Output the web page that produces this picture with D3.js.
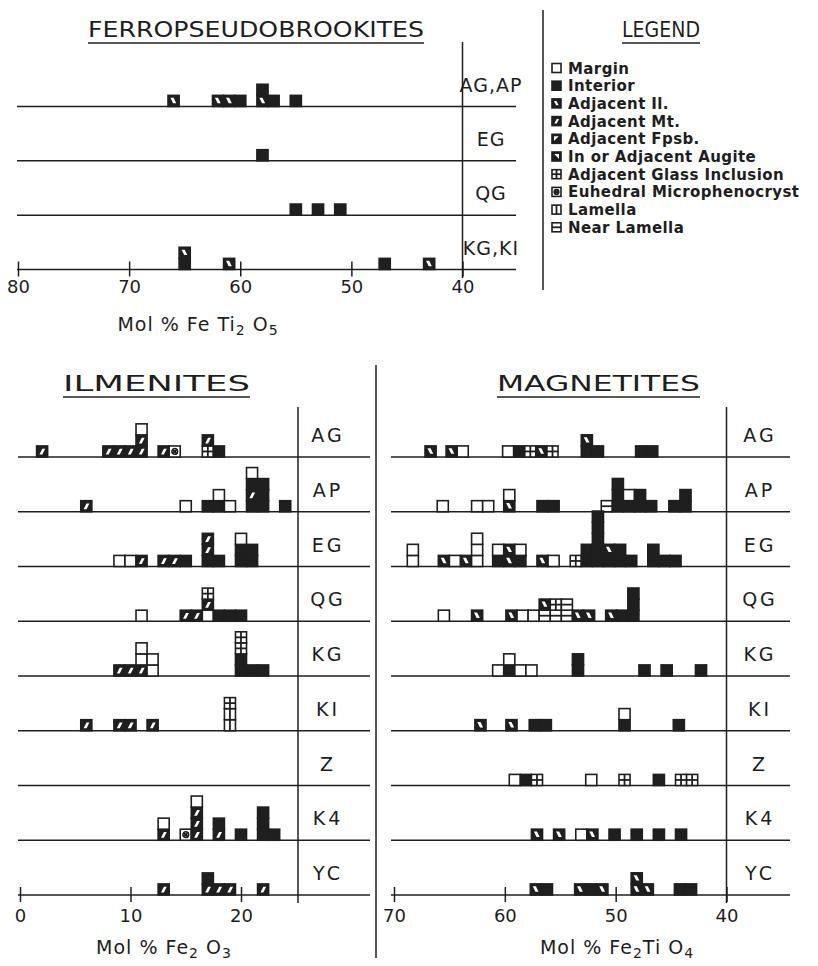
<!DOCTYPE html>
<html><head><meta charset="utf-8">
<script src="https://cdn.jsdelivr.net/npm/d3@7"></script>
<style>
body{margin:0;background:#fff;}
svg text{font-family:"DejaVu Sans",sans-serif;fill:#1e1e1e;}
</style></head><body>
<svg id="chart" width="818" height="966"></svg>
<script>
// ---------------- data ----------------
// each column: [mol %, grain types stacked from the bottom up]
const fpsbRows = ["AG,AP", "EG", "QG", "KG,KI"];
const fpsbAGAP = [[66,"il"],[62,"il"],[61,"il"],[60,"int"],[58,"il","int"],[57,"int"],[55,"int"]];
const fpsbEG   = [[58,"int"]];
const fpsbQG   = [[55,"int"],[53,"int"],[51,"int"]];
const fpsbKGKI = [[65,"int","il"],[61,"il"],[47,"int"],[43,"il"]];
const fpsbTicks = [80, 70, 60, 50, 40];

const suiteRows = ["AG","AP","EG","QG","KG","KI","Z","K4","YC"];

const ilmAG = [[2,"mt"],[8,"mt"],[9,"mt"],[10,"mt"],[11,"mt","mt","mar"],[13,"mt"],[14,"eu"],[17,"gl","mt"],[18,"int"]];
const ilmAP = [[6,"mt"],[15,"mar"],[17,"int"],[18,"int","mar"],[19,"mar"],[21,"int","mt","int","mar"],[22,"int","int","int"],[24,"int"]];
const ilmEG = [[9,"mar"],[10,"mar"],[11,"mt"],[13,"mt"],[14,"mt"],[15,"int"],[17,"int","mt","mt"],[18,"int"],[20,"int","int","mar"],[21,"int","int"]];
const ilmQG = [[11,"mar"],[15,"mt"],[16,"mt"],[17,"mar","mt","gl"],[18,"int"],[19,"int"],[20,"int"]];
const ilmKG = [[9,"mt"],[10,"mt"],[11,"mt","mar","mar"],[12,"mar","mar"],[20,"int","int","gl","gl"],[21,"int"],[22,"int"]];
const ilmKI = [[6,"mt"],[9,"mt"],[10,"mt"],[12,"mt"],[19,"lam","lam","gl"]];
const ilmZ  = [];
const ilmK4 = [[13,"mt","mar"],[15,"eu"],[16,"mt","mt","mt","mar"],[18,"mt","int"],[20,"int"],[22,"int","int","int"],[23,"int"]];
const ilmYC = [[13,"mt"],[17,"mt","int"],[18,"mt"],[19,"mt"],[22,"mt"]];
const ilmTicks = [0, 10, 20];

const magAG = [[66.7,"il"],[64.8,"il"],[63.8,"mar"],[59.7,"mar"],[58.7,"int"],[57.7,"gl"],[56.7,"il"],[55.7,"gl"],[52.6,"int","il"],[51.6,"int"],[47.7,"int"],[46.7,"int"]];
const magAP = [[65.6,"mar"],[62.5,"mar"],[61.5,"mar"],[59.6,"il","mar"],[56.6,"int"],[55.6,"int"],[50.8,"nl"],[49.8,"int","int","int"],[48.8,"int","mar"],[47.8,"int","int"],[46.8,"int"],[44.7,"int"],[43.7,"int","int"]];
const magEG = [[68.3,"mar","mar"],[65.5,"il"],[64.5,"mar"],[63.5,"il"],[62.5,"mar","mar","mar"],[60.6,"int","mar"],[59.6,"il","il"],[58.6,"int","mar"],[56.6,"il"],[55.6,"mar"],[53.6,"gl"],[52.6,"int","int"],[51.6,"int","int","int","int","int"],[50.6,"int","il"],[49.6,"int","int"],[48.6,"int"],[46.6,"int","int"],[45.6,"int"],[44.6,"int"]];
const magQG = [[65.5,"mar"],[62.5,"il"],[59.4,"il"],[58.4,"mar"],[57.4,"mar"],[56.4,"nl","il"],[55.4,"nl","gl"],[54.4,"nl","nl"],[53.4,"il"],[52.4,"il"],[50.4,"il"],[49.4,"int"],[48.4,"int","int","int"]];
const magKG = [[60.6,"mar"],[59.6,"int","mar"],[58.6,"mar"],[57.6,"mar"],[53.4,"int","int"],[47.4,"int"],[45.4,"int"],[42.3,"int"]];
const magKI = [[62.2,"il"],[59.4,"il"],[57.3,"int"],[56.3,"int"],[49.2,"int","mar"],[44.3,"int"]];
const magZ  = [[59.1,"mar"],[58.1,"int"],[57.1,"gl"],[52.2,"mar"],[49.2,"gl"],[46.1,"int"],[44.1,"gl"],[43.1,"gl"]];
const magK4 = [[57.1,"il"],[55.1,"il"],[53.1,"mar"],[52.1,"il"],[50.1,"int"],[48.1,"int"],[46.1,"int"],[44.1,"int"]];
const magYC = [[57.2,"il"],[56.2,"int"],[53.2,"il"],[52.2,"int"],[51.2,"il"],[48.1,"il","il"],[47.1,"il"],[44.2,"int"],[43.2,"int"]];
const magTicks = [70, 60, 50, 40];

const legendKeys   = ["mar","int","il","mt","fp","aug","gl","eu","lam","nl"];
const legendLabels = ["Margin","Interior","Adjacent Il.","Adjacent Mt.","Adjacent Fpsb.","In or Adjacent Augite","Adjacent Glass Inclusion","Euhedral Microphenocryst","Lamella","Near Lamella"];

// ---------------- drawing ----------------
const INK = "#1f1f1f";
const svg = d3.select("#chart");
svg.append("rect").attr("width", 818).attr("height", 966).attr("fill", "#fff");

// one grain symbol with its top-left corner at the group origin
function glyph(g, type, s) {
  const open = ["mar","gl","eu","lam","nl"].includes(type);
  g.append("rect").attr("width", s).attr("height", s)
    .attr("fill", open ? "#fff" : INK).attr("stroke", INK).attr("stroke-width", 1.6);
  const P = pts => pts.map(([a, b]) => (a * s).toFixed(2) + "," + (b * s).toFixed(2)).join(" ");
  const white = pts => g.append("polygon").attr("points", P(pts)).attr("fill", "#fff");
  const line = (x1, y1, x2, y2) => g.append("line")
    .attr("x1", x1 * s).attr("y1", y1 * s).attr("x2", x2 * s).attr("y2", y2 * s)
    .attr("stroke", INK).attr("stroke-width", 1.8);
  if (type === "il")  white([[.22,.22],[.5,.22],[.74,.7],[.46,.7]]);
  if (type === "mt")  white([[.26,.78],[.52,.78],[.78,.26],[.52,.26]]);
  if (type === "fp")  white([[.22,.22],[.74,.22],[.22,.74]]);
  if (type === "aug") white([[.24,.22],[.78,.22],[.78,.76]]);
  if (type === "gl")  { line(.5, 0, .5, 1); line(0, .5, 1, .5); }
  if (type === "lam") line(.5, 0, .5, 1);
  if (type === "nl")  line(0, .5, 1, .5);
  if (type === "eu")  {
    g.append("circle").attr("cx", s / 2).attr("cy", s / 2).attr("r", s * 0.26)
      .attr("fill", "none").attr("stroke", INK).attr("stroke-width", 1.5);
    line(.3, .3, .7, .7); line(.3, .7, .7, .3);
  }
}

function drawPanel(o) {
  const g = svg.append("g");
  const unit = Math.abs(o.x(1) - o.x(0));
  o.rows.forEach((name, i) => {
    const y = o.y(name);
    g.append("line").attr("x1", o.lineX0).attr("x2", o.lineX1).attr("y1", y).attr("y2", y)
      .attr("stroke", INK).attr("stroke-width", 1.5);
    o.data[i].forEach(([v, ...types]) => {
      types.forEach((t, k) => {
        const cell = g.append("g")
          .attr("transform", `translate(${o.x(v) - unit / 2},${y - (k + 1) * unit})`);
        glyph(cell, t, unit);
      });
    });
    g.append("text").attr("x", o.labelX).attr("y", y - 15)
      .attr("text-anchor", "middle").attr("font-size", 19).attr("letter-spacing", o.labelSpacing || 3)
      .text(name);
  });
  // right-hand divider between the marks and the row labels
  g.append("line").attr("x1", o.vx).attr("x2", o.vx).attr("y1", o.vy0).attr("y2", o.vy1)
    .attr("stroke", INK).attr("stroke-width", 1.5);
  // scale along the last baseline
  const last = o.y(o.rows[o.rows.length - 1]);
  const ax = g.append("g").attr("transform", `translate(0,${last})`)
    .call(d3.axisBottom(o.x).tickValues(o.ticks).tickSize(7).tickPadding(0).tickFormat(d3.format("d")));
  ax.select(".domain").remove();
  ax.selectAll(".tick line").attr("y1", -8).attr("stroke", INK).attr("stroke-width", 1.5);
  ax.selectAll(".tick text").attr("y", o.tickTextY).attr("dy", null)
    .attr("font-size", 18).attr("font-family", "DejaVu Sans").attr("fill", INK);
}

// ---- Ferropseudobrookites ----
const fx = d3.scaleLinear().domain([80, 40]).range([18, 462.5]);
const fy = d3.scalePoint().domain(fpsbRows).range([106.5, 269.5]);
drawPanel({x: fx, y: fy, rows: fpsbRows, data: [fpsbAGAP, fpsbEG, fpsbQG, fpsbKGKI],
  lineX0: 17, lineX1: 516, vx: fx(40), vy0: 42, vy1: 278, labelX: 491, labelSpacing: 1,
  ticks: fpsbTicks, tickTextY: 23});

// ---- Ilmenites ----
const ix = d3.scaleLinear().domain([0, 20]).range([20, 241]);
const sy = d3.scalePoint().domain(suiteRows).range([457, 895]);
drawPanel({x: ix, y: sy, rows: suiteRows,
  data: [ilmAG, ilmAP, ilmEG, ilmQG, ilmKG, ilmKI, ilmZ, ilmK4, ilmYC],
  lineX0: 18, lineX1: 370, vx: 298, vy0: 407, vy1: 903, labelX: 328,
  ticks: ilmTicks, tickTextY: 27});

// ---- Magnetites ----
const mx = d3.scaleLinear().domain([70, 40]).range([394, 726.5]);
drawPanel({x: mx, y: sy, rows: suiteRows,
  data: [magAG, magAP, magEG, magQG, magKG, magKI, magZ, magK4, magYC],
  lineX0: 391, lineX1: 790, vx: mx(40), vy0: 407, vy1: 903, labelX: 760,
  ticks: magTicks, tickTextY: 27});

// ---- frame lines ----
svg.append("line").attr("x1", 543).attr("x2", 543).attr("y1", 10).attr("y2", 290)
  .attr("stroke", INK).attr("stroke-width", 1.5);
svg.append("line").attr("x1", 376).attr("x2", 376).attr("y1", 365).attr("y2", 958)
  .attr("stroke", INK).attr("stroke-width", 1.5);

// ---- headings ----
function heading(text, x0, x1, base) {
  svg.append("text").attr("x", x0).attr("y", base).attr("font-size", 21)
    .attr("textLength", x1 - x0).attr("lengthAdjust", "spacingAndGlyphs").text(text);
  svg.append("line").attr("x1", x0).attr("x2", x1).attr("y1", base + 6).attr("y2", base + 6)
    .attr("stroke", INK).attr("stroke-width", 1.6);
}
heading("FERROPSEUDOBROOKITES", 88, 424, 37);
heading("LEGEND", 622, 700, 37);
heading("ILMENITES", 63, 250, 391);
heading("MAGNETITES", 497, 700, 391);

// ---- axis titles with chemical subscripts ----
function formula(x, y, parts) {
  const t = svg.append("text").attr("x", x).attr("y", y).attr("font-size", 19)
    .attr("text-anchor", "middle").attr("letter-spacing", 1);
  let shifted = false;
  parts.forEach(([s, sub]) => {
    const dy = sub ? (shifted ? 0 : 4) : (shifted ? -4 : 0);
    t.append("tspan").attr("font-size", sub ? 14 : 19).attr("dy", dy).text(s);
    shifted = !!sub;
  });
}
formula(198, 331, [["Mol %  Fe Ti"], ["2", true], [" O"], ["5", true]]);
formula(164, 954, [["Mol %  Fe"], ["2", true], [" O"], ["3", true]]);
formula(617, 954, [["Mol %  Fe"], ["2", true], ["Ti O"], ["4", true]]);

// ---- legend ----
const lg = svg.append("g");
legendKeys.forEach((k, i) => {
  const y = 68 + i * 17.7;
  const cell = lg.append("g").attr("transform", `translate(552,${y - 4.5})`);
  glyph(cell, k, 9);
  lg.append("text").attr("x", 568).attr("y", y + 5.5).attr("font-size", 15)
    .attr("letter-spacing", 0.4)
    .attr("font-family", "Liberation Sans").attr("font-weight", "bold").text(legendLabels[i]);
});
</script>
</body></html>
